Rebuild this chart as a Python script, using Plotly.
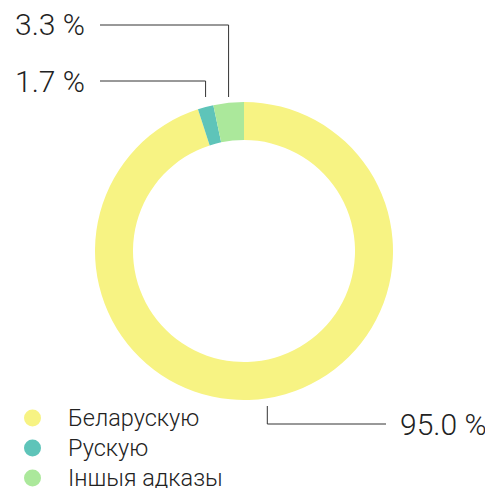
import math
import plotly.graph_objects as go

labels = ['Беларускую', 'Рускую', 'Іншыя адказы']
values = [95.0, 1.7, 3.3]
colors = ['#f7f383', '#5ec4b9', '#abe89b']

# label positions (pixel y) for the leader lines
label_y = [424, 81, 25]

W, H = 493, 488
OFF = 8  # page body margin
FW, FH = W - OFF, H - OFF
cx, cy, r = 244, 251, 149


def px(x):
    return (x - OFF) / FW


def py(y):
    return 1 - (y - OFF) / FH


fig = go.Figure()
fig.add_trace(go.Pie(
    labels=labels, values=values, sort=False, direction='clockwise', rotation=0,
    hole=0.745, marker=dict(colors=colors, line=dict(width=0)),
    textinfo='none', hoverinfo='label+percent', showlegend=False,
    domain=dict(x=[px(cx - r), px(cx + r)], y=[py(cy + r), py(cy - r)]),
))

font = dict(family='Roboto', size=30, color='#222222', weight=300)
total = sum(values)
cum = 0
shapes = []
annotations = []
for v, ly in zip(values, label_y):
    mid = (cum + v / 2) / total * 2 * math.pi
    cum += v
    x = cx + r * math.sin(mid)
    if math.cos(mid) > 0:
        y0 = cy - r - 5
        x1 = 100
        annotations.append(dict(x=px(87), y=py(ly), text=f'{v:.1f} %', showarrow=False,
                                xanchor='right', yanchor='middle', font=font,
                                xref='paper', yref='paper'))
    else:
        y0 = cy + r + 6
        x1 = 386
        annotations.append(dict(x=px(398), y=py(ly), text=f'{v:.1f} %', showarrow=False,
                                xanchor='left', yanchor='middle', font=font,
                                xref='paper', yref='paper'))
    shapes.append(dict(type='path', xref='paper', yref='paper',
                       path=f'M {px(x)} {py(y0)} L {px(x)} {py(ly)} L {px(x1)} {py(ly)}',
                       line=dict(color='#333333', width=1)))

# legend: circle + label per category
leg_font = dict(family='Roboto', size=23.5, color='#222222', weight=300)
for i, (lab, col) in enumerate(zip(labels, colors)):
    y = 418 + i * 30
    shapes.append(dict(type='circle', xref='paper', yref='paper',
                       x0=px(24), x1=px(41), y0=py(y + 8.5), y1=py(y - 8.5),
                       fillcolor=col, line=dict(width=0)))
    annotations.append(dict(x=px(66), y=py(y), text=lab, showarrow=False,
                            xanchor='left', yanchor='middle', font=leg_font,
                            xref='paper', yref='paper'))

fig.update_layout(
    width=FW, height=FH, margin=dict(l=0, r=0, t=0, b=0, autoexpand=False),
    paper_bgcolor='white', plot_bgcolor='white',
    shapes=shapes, annotations=annotations, showlegend=False,
)

fig.write_html('out.html')
